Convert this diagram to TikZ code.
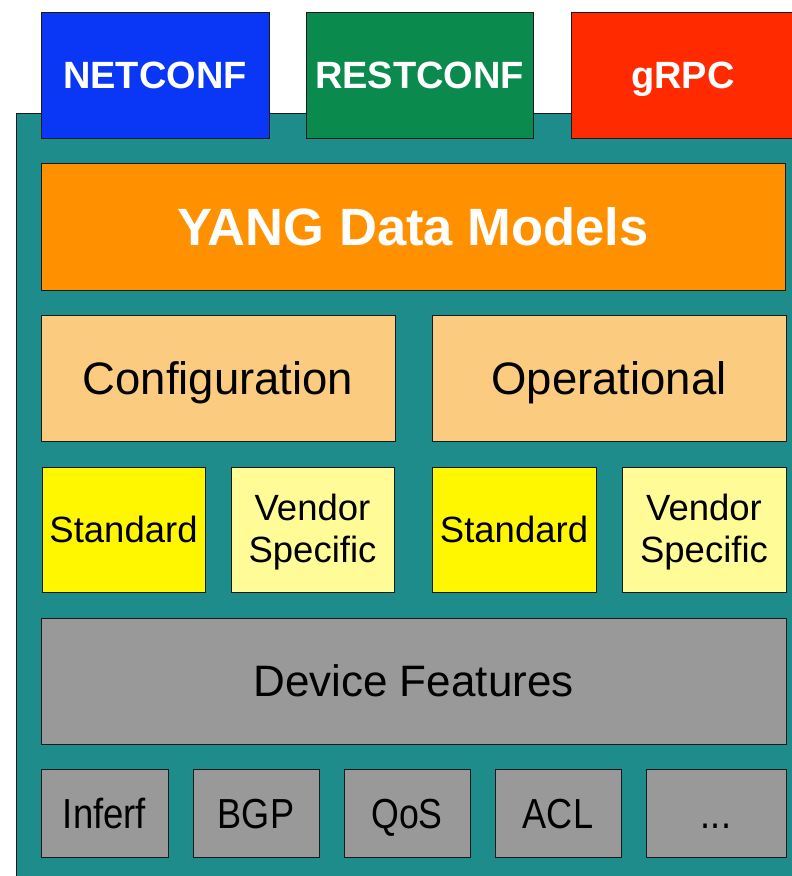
\documentclass[tikz,border=0pt]{standalone}
\usepackage{fontspec}
\usepackage{graphicx}
\setmainfont{Liberation Sans}
\definecolor{tealbg}{HTML}{1F8C8C}
\definecolor{netblue}{HTML}{0A37F5}
\definecolor{restgreen}{HTML}{0B8A4E}
\definecolor{grpcred}{HTML}{FF2A00}
\definecolor{yangorange}{HTML}{FF9100}
\definecolor{lightorange}{HTML}{FBCB80}
\definecolor{stdyellow}{HTML}{FFF700}
\definecolor{vendyellow}{HTML}{FFFC98}
\definecolor{featgray}{HTML}{999999}
\definecolor{edge}{HTML}{1A1A1A}
\begin{document}
\begin{tikzpicture}[x=1pt,y=-1pt,
  box/.style={draw=edge, line width=0.9pt, inner sep=0pt, align=center},
  proto/.style={box, text=white, font=\fontsize{38}{44}\selectfont\bfseries, text height=27pt, text depth=0pt},
  big/.style={box, font=\fontsize{45.5}{52}\selectfont, text height=32.5pt, text depth=0pt},
  small/.style={box, font=\fontsize{36.5}{42}\selectfont},
  feat/.style={box, fill=featgray, font=\fontsize{42}{48}\selectfont, text height=30pt, text depth=0pt}
]
\useasboundingbox (0,0) rectangle (792,876);
\clip (0,0) rectangle (792,876);
% teal background
\node[box, fill=tealbg, minimum width=800pt, minimum height=775pt, anchor=north west] (bg) at (16,113) {};
% protocols
\node[proto, fill=netblue, minimum width=228pt, minimum height=126pt] (netconf) at (155,75) {NETCONF};
\node[proto, fill=restgreen, minimum width=227pt, minimum height=126pt] (restconf) at (419.5,75) {RESTCONF};
\node[proto, fill=grpcred, minimum width=223pt, minimum height=126pt, anchor=west] (grpc) at (571,75) {gRPC};
% YANG
\node[box, fill=yangorange, text=white, font=\fontsize{52.5}{58}\selectfont\bfseries, text height=37.5pt, text depth=0pt,
  minimum width=744pt, minimum height=127pt] (yang) at (413,226.5) {YANG Data Models};
% config / operational
\node[big, fill=lightorange, minimum width=354pt, minimum height=126pt] (config) at (218,378) {Configuration};
\node[big, fill=lightorange, minimum width=354pt, minimum height=126pt] (oper) at (609,378) {Operational};
% standard / vendor
\node[small, fill=stdyellow, minimum width=163pt, minimum height=125pt, text height=26pt, text depth=0pt] (std1) at (123.5,529.5) {Standard};
\node[small, fill=vendyellow, minimum width=163pt, minimum height=125pt] (ven1) at (312.5,529.5) {};
\node[font=\fontsize{36.5}{42}\selectfont, align=center, inner sep=0pt, yshift=-3pt] (ven1t) at (ven1.center) {Vendor\\Specific};
\node[small, fill=stdyellow, minimum width=164pt, minimum height=125pt, text height=26pt, text depth=0pt] (std2) at (514,529.5) {Standard};
\node[small, fill=vendyellow, minimum width=164pt, minimum height=125pt] (ven2) at (704,529.5) {};
\node[font=\fontsize{36.5}{42}\selectfont, align=center, inner sep=0pt, yshift=-3pt] (ven2t) at (ven2.center) {Vendor\\Specific};
% device features
\node[box, fill=featgray, font=\fontsize{44}{50}\selectfont, text height=31.5pt, text depth=0pt, minimum width=745pt, minimum height=126pt] (dev) at (413.5,681) {Device Features};
% features
\node[feat, minimum width=127pt, minimum height=88pt] (intf) at (104.5,813) {\scalebox{0.87}[1]{Inferf}};
\node[feat, minimum width=126pt, minimum height=88pt] (bgp) at (256,813) {\scalebox{0.86}[1]{BGP}};
\node[feat, minimum width=126pt, minimum height=88pt] (qos) at (407,813) {\scalebox{0.85}[1]{QoS}};
\node[feat, minimum width=126pt, minimum height=88pt] (acl) at (558,813) {\scalebox{0.86}[1]{ACL}};
\node[feat, minimum width=140pt, minimum height=88pt] (more) at (716,813) {\scalebox{0.86}[1]{...}};
\end{tikzpicture}
\end{document}
